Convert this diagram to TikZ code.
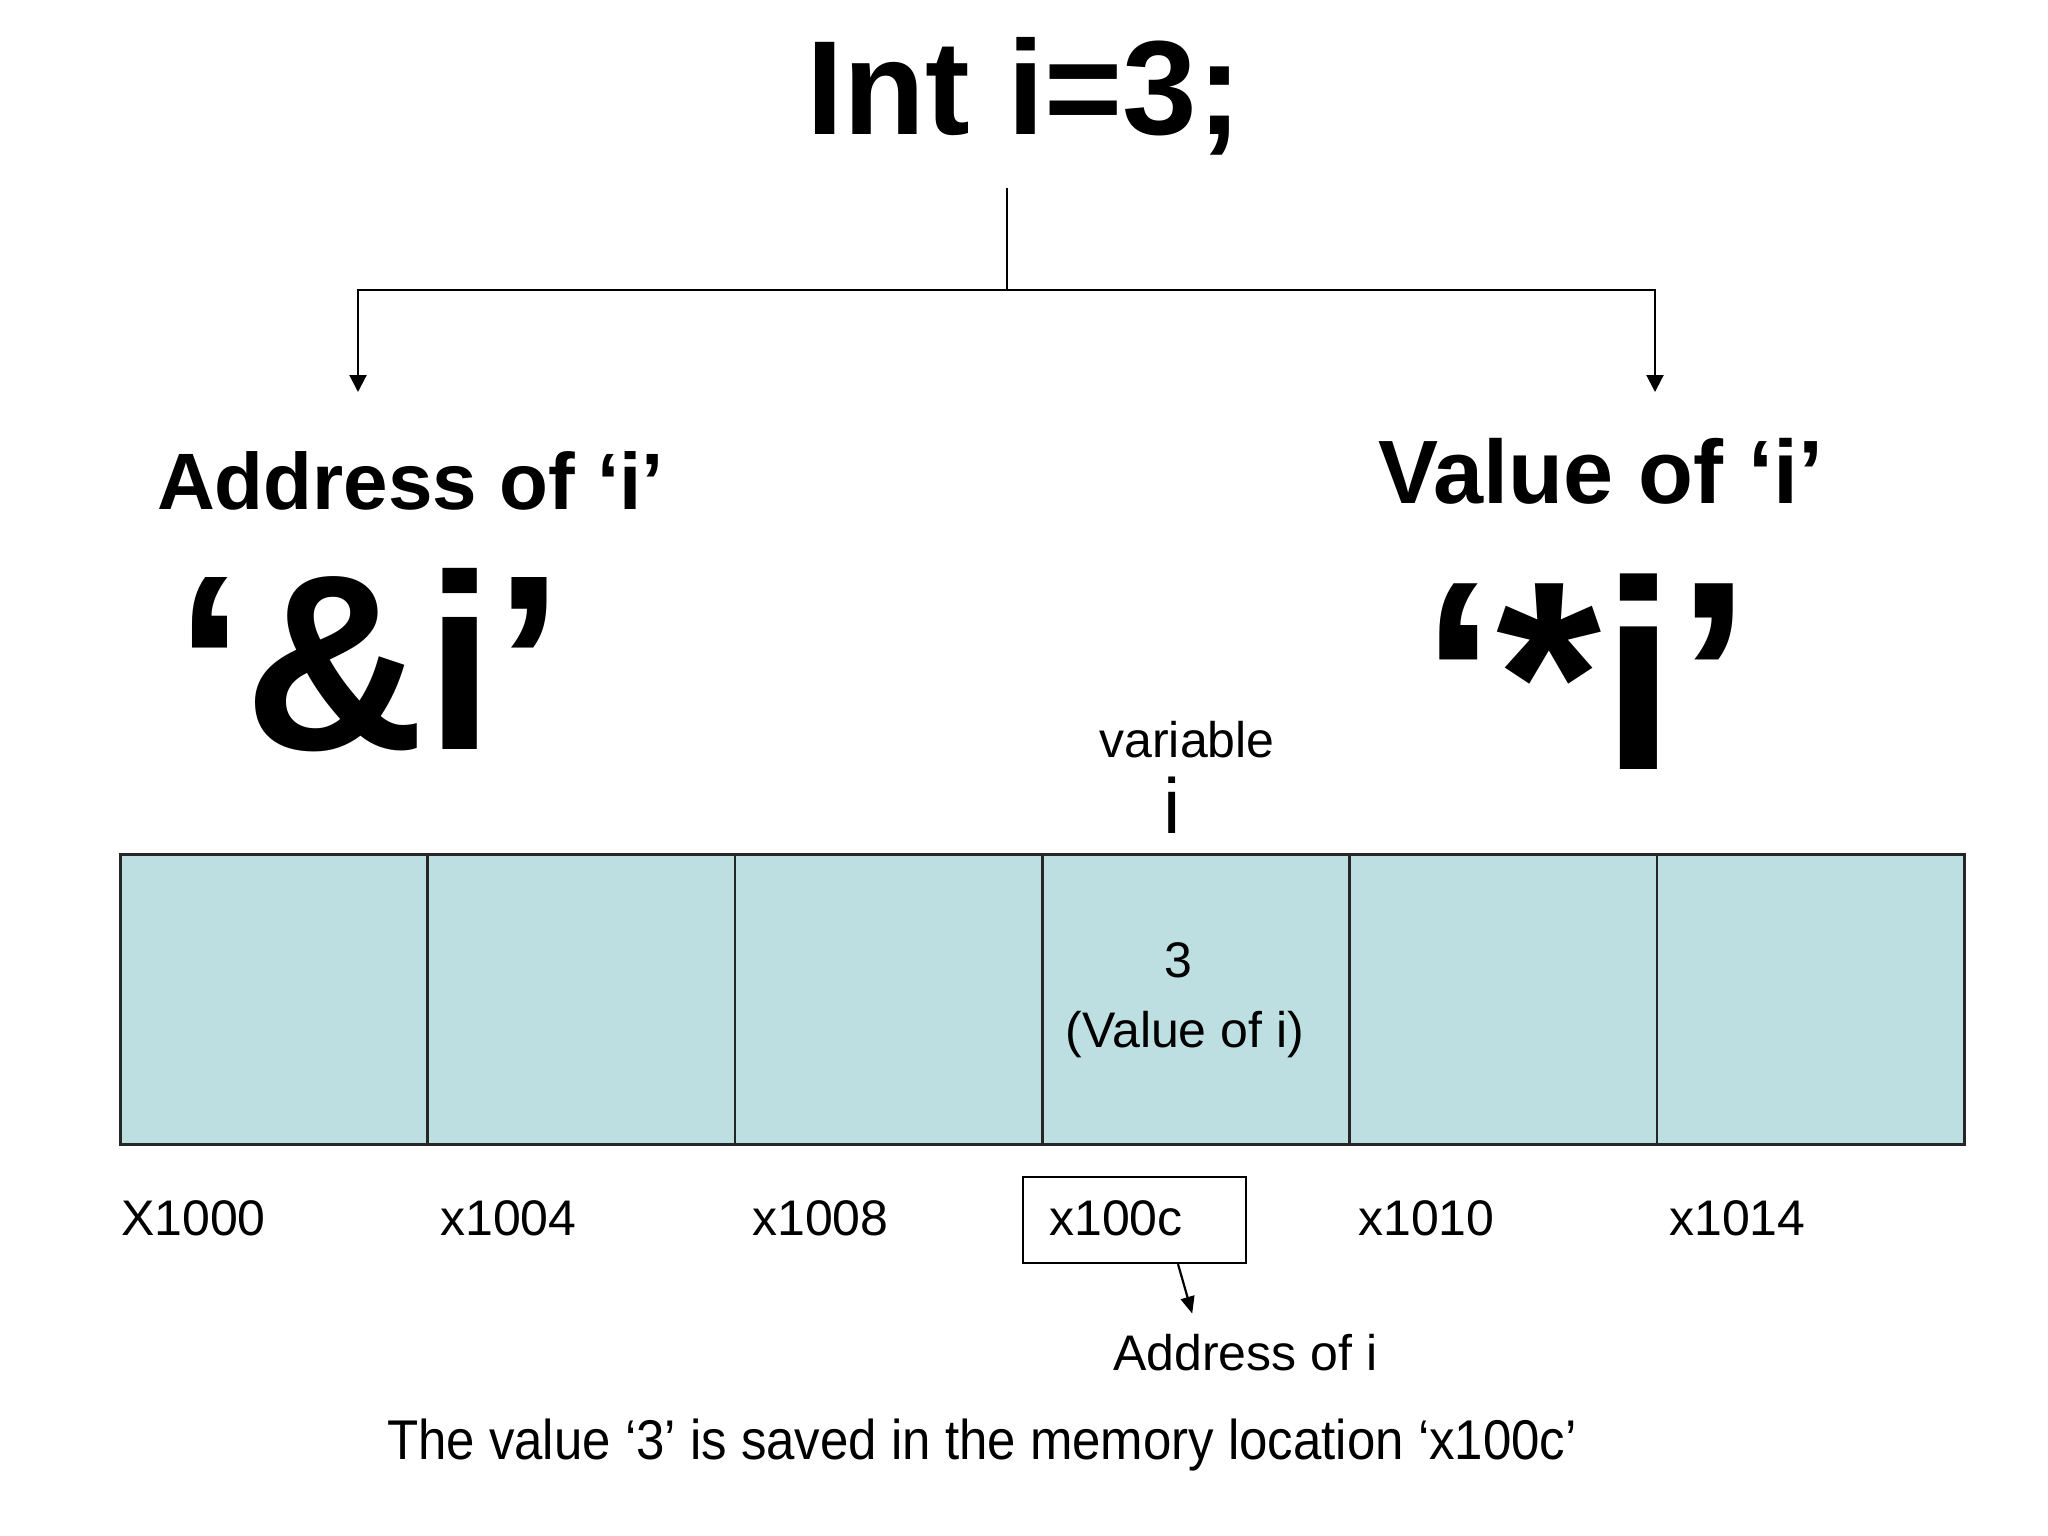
\documentclass[tikz,border=0pt]{standalone}
\usepackage{fontspec}
\setmainfont{Liberation Sans}
\usepackage{graphicx}
\usetikzlibrary{arrows.meta}
\definecolor{cellfill}{RGB}{189,223,226}
\newcommand\fsz[1]{\fontsize{#1}{#1}\selectfont}
\begin{document}
\begin{tikzpicture}[x=1pt,y=-1pt,
  txt/.style={inner sep=0pt, anchor=base west},
  ctxt/.style={inner sep=0pt, anchor=base},
  cell/.style={draw=black!85, line width=2.5pt, fill=cellfill, minimum width=307.33pt, minimum height=290pt, inner sep=0pt, anchor=north west},
  link/.style={line width=2.2pt},
  bigtip/.style={-{Triangle[width=17pt,length=17pt]}},
  smalltip/.style={-{Triangle[width=14pt,length=17pt]}}]
\useasboundingbox[fill=white] (0,0) rectangle (2048,1536);

% title
\node[txt] (title) at (806,135) {\fsz{134}\bfseries Int i=3;};
\coordinate (top) at (1007,188);
\coordinate (split) at (1007,290);
\coordinate (la) at (358,392);
\coordinate (ra) at (1655,392);
\draw[link] (top) -- (split);
\draw[link,bigtip] (split) -| (la);
\draw[link,bigtip] (split) -| (ra);

% headings
\node[txt] (addrh) at (157,509) {\fsz{80}\bfseries Address of ‘i’};
\node[txt] (amp) at (175,749) {\fsz{250}\bfseries ‘\&i’};
\node[txt] (valh) at (1378,503) {\fsz{90}\bfseries Value of ‘i’};
\node[txt] (star) at (1421,769) {\fsz{270}\bfseries ‘*i’};

% variable label
\node[ctxt] (var) at (1187,757) {\fsz{50}variable};
\node[ctxt] (vari) at (1172,833) {\fsz{78}i};

% memory cells
\node[cell] (c1) at (119,853) {};
\node[cell] (c2) at (426.33,853) {};
\node[cell] (c3) at (733.67,853) {};
\node[cell] (c4) at (1041,853) {};
\node[cell] (c5) at (1348.33,853) {};
\node[cell] (c6) at (1655.67,853) {};

\node[ctxt] (three) at (1178,977) {\fsz{50}3};
\node[ctxt] (valof) at (1185,1047) {\fsz{50}(Value of i)};

% addresses
\node[txt] (a1) at (121,1235) {\fsz{50}X1000};
\node[txt] (a2) at (440,1235) {\fsz{50}x1004};
\node[txt] (a3) at (752,1235) {\fsz{50}x1008};
\node[draw, line width=2.2pt, minimum width=223pt, minimum height=86pt, inner sep=0pt] (box) at (1134.5,1220) {};
\node[txt] (a4) at (1049,1235) {\fsz{50}x100c};
\node[txt] (a5) at (1358,1235) {\fsz{50}x1010};
\node[txt] (a6) at (1669,1235) {\fsz{50}x1014};

\node[txt] (addri) at (1113,1370) {\fsz{50}Address of i};
\draw[link,smalltip] ([xshift=43.5pt]box.south) -- ([xshift=-53pt,yshift=20pt]addri.north);

% bottom sentence
\node[txt] (sent) at (387,1459) {\scalebox{0.91}[1]{\fsz{56}The value ‘3’ is saved in the memory location ‘x100c’}};
\end{tikzpicture}
\end{document}
